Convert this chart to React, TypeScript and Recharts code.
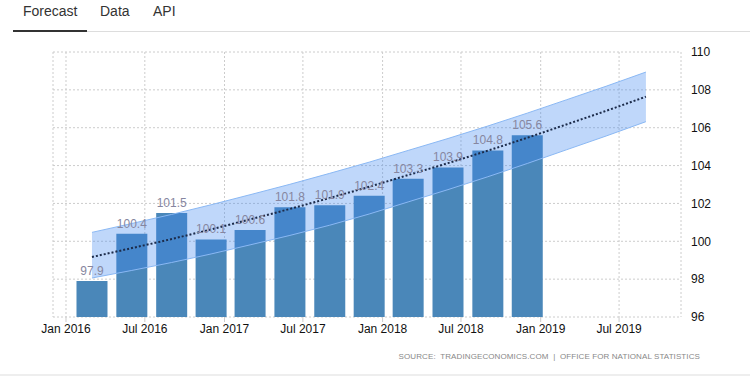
import { ComposedChart, Bar, Area, Line, XAxis, YAxis, CartesianGrid, LabelList } from 'recharts';

// quarterly observation dates (bars) and forecast dates (trend + band)
const dates = [
  '2016-03-01', '2016-06-01', '2016-09-01', '2016-12-01',
  '2017-03-01', '2017-06-01', '2017-09-01', '2017-12-01',
  '2018-03-01', '2018-06-01', '2018-09-01', '2018-12-01',
  '2019-03-01', '2019-06-01', '2019-09-01',
];

const actual = [97.9, 100.4, 101.5, 100.1, 100.6, 101.8, 101.9, 102.4, 103.3, 103.9, 104.8, 105.6];

const trend = [
  99.17, 99.64, 100.12, 100.63, 101.16, 101.71, 102.29, 102.88,
  103.5, 104.13, 104.79, 105.47, 106.17, 106.89, 107.64,
];

const upper = [
  100.47, 100.94, 101.42, 101.93, 102.46, 103.01, 103.59, 104.18,
  104.8, 105.43, 106.09, 106.77, 107.47, 108.19, 108.94,
];

const lower = [
  98.06, 98.46, 98.88, 99.33, 99.81, 100.31, 100.85, 101.44,
  102.08, 102.73, 103.41, 104.11, 104.83, 105.56, 106.32,
];

const tickDates = [
  '2016-01-01', '2016-07-01', '2017-01-01', '2017-07-01',
  '2018-01-01', '2018-07-01', '2019-01-01', '2019-07-01',
];
const tickLabels = ['Jan 2016', 'Jul 2016', 'Jan 2017', 'Jul 2017', 'Jan 2018', 'Jul 2018', 'Jan 2019', 'Jul 2019'];

const yTicks = [96, 98, 100, 102, 104, 106, 108, 110];

const toTs = (d: string) => Date.parse(d + 'T00:00:00Z');

const data = dates.map((d, i) => ({
  ts: toTs(d),
  value: actual[i],
  trend: trend[i],
  band: [lower[i], upper[i]],
}));

const ticks = tickDates.map(toTs);
const labelFor = (ts: number) => tickLabels[ticks.indexOf(ts)] ?? '';
const xDomain = [toTs('2015-12-02'), toTs('2019-11-21')];

const FONT = '"Liberation Sans", Arial, sans-serif';

export default function App() {
  return (
    <div style={{ position: 'absolute', left: 0, top: 0, width: 750, height: 382, background: '#fff', fontFamily: FONT, overflow: 'hidden' }}>
      <div style={{ position: 'absolute', left: 23, top: 3, fontSize: 14, color: '#333' }}>Forecast</div>
      <div style={{ position: 'absolute', left: 100, top: 3, fontSize: 14, color: '#333' }}>Data</div>
      <div style={{ position: 'absolute', left: 153, top: 3, fontSize: 14, color: '#333' }}>API</div>
      <div style={{ position: 'absolute', left: 13, top: 31, width: 737, height: 1, background: '#ddd' }} />
      <div style={{ position: 'absolute', left: 13, top: 30, width: 74, height: 2, background: '#333' }} />

      {/* base chart: grid, axes, bars */}
      <div style={{ position: 'absolute', left: 0, top: 0 }}>
        <ComposedChart width={750} height={382} data={data} margin={{ top: 52, right: 19, bottom: 35, left: 53 }}>
          <CartesianGrid stroke="#ccc" strokeDasharray="2 2" />
          <XAxis
            dataKey="ts"
            type="number"
            scale="time"
            domain={xDomain}
            ticks={ticks}
            tickFormatter={labelFor}
            axisLine={false}
            tickLine={{ stroke: '#ccc' }}
            tickSize={5}
            height={30}
            tick={{ fill: '#111', fontSize: 12, fontFamily: FONT }}
            allowDataOverflow
          />
          <YAxis
            orientation="right"
            domain={[96, 110]}
            ticks={yTicks}
            axisLine={false}
            tickLine={false}
            tickMargin={4}
            width={50}
            tick={{ fill: '#111', fontSize: 12, fontFamily: FONT }}
          />
          <Bar dataKey="value" fill="#4a87b9" barSize={31} isAnimationActive={false} />
        </ComposedChart>
      </div>

      {/* overlay chart: forecast band + trend drawn over the bars, then value labels */}
      <div style={{ position: 'absolute', left: 0, top: 0, pointerEvents: 'none' }}>
        <ComposedChart width={750} height={382} data={data} margin={{ top: 52, right: 69, bottom: 65, left: 53 }}>
          <XAxis dataKey="ts" type="number" scale="time" domain={xDomain} hide allowDataOverflow />
          <YAxis domain={[96, 110]} hide />
          <Area
            dataKey="band"
            type="linear"
            fill="#3d85f0"
            fillOpacity={0.33}
            stroke="#8ab8f4"
            strokeWidth={1}
            isAnimationActive={false}
            dot={false}
            activeDot={false}
          />
          <Line
            dataKey="trend"
            type="monotone"
            stroke="#1c2b4a"
            strokeWidth={2}
            strokeDasharray="2 2"
            dot={false}
            activeDot={false}
            isAnimationActive={false}
          />
          <Bar dataKey="value" fill="none" barSize={31} isAnimationActive={false}>
            <LabelList dataKey="value" position="top" offset={6} fill="#8686a0" fontSize={12} fontFamily={FONT} />
          </Bar>
        </ComposedChart>
      </div>

      <div style={{ position: 'absolute', right: 50, top: 352, fontSize: 8, color: '#888', letterSpacing: 0.1, whiteSpace: 'pre' }}>
        {'SOURCE:  TRADINGECONOMICS.COM  |  OFFICE FOR NATIONAL STATISTICS'}
      </div>
      <div style={{ position: 'absolute', left: 0, top: 374, width: 750, height: 2, background: '#eee' }} />
    </div>
  );
}
